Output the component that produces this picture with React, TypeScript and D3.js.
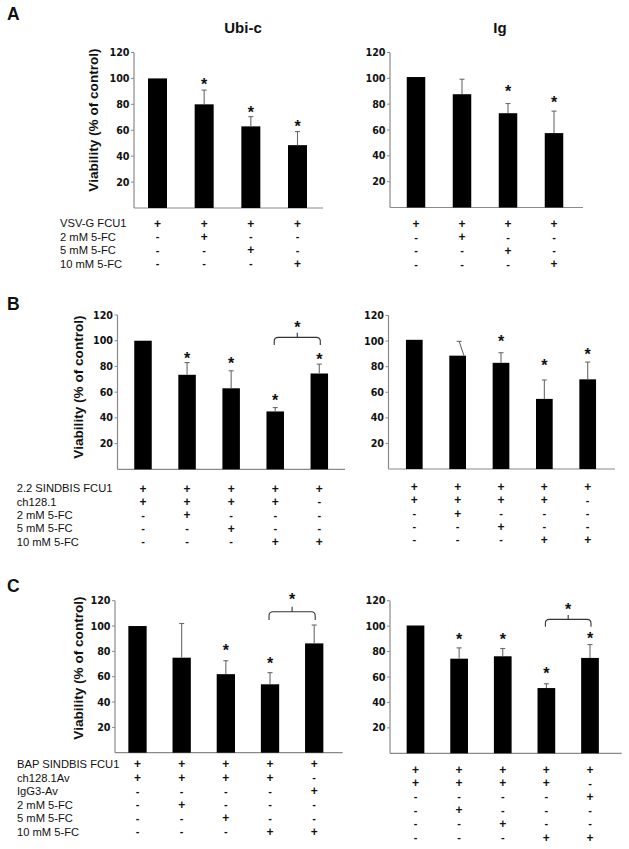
import React from "react";
import * as d3 from "d3";

// ---------- DATA ----------
const yTicks = [20, 40, 60, 80, 100, 120];

// Panel A (Ubi-c / Ig)
const aLeftValues = [100, 80, 63, 48.5];
const aLeftSD = [0.4, 11, 7.5, 10.5];
const aLeftStars = [null, 97.5, 76.4, 65.6];
const aRightValues = [101, 87.7, 73, 57.6];
const aRightSD = [0.4, 11.6, 7.5, 17];
const aRightStars = [null, null, 92, 83.7];

// Panel B
const bLeftValues = [100, 73.5, 63, 45, 74.5];
const bLeftSD = [0.3, 9.5, 13.6, 3, 7.3];
const bLeftStars = [null, 88.9, 84.4, 55.7, 87.6];
const bRightValues = [101, 88.6, 83, 54.8, 70.1];
const bRightSD = [0.4, 11.2, 7.9, 14.8, 13.5];
const bRightStars = [null, null, 102.3, 83.2, 92];

// Panel C
const cLeftValues = [100, 75, 62, 54, 86.3];
const cLeftSD = [0.4, 27, 10.6, 9.2, 14.5];
const cLeftStars = [null, null, 83.2, 73.2, null];
const cRightValues = [100.5, 74.4, 76.3, 51.3, 75];
const cRightSD = [0, 8.5, 6.1, 3.4, 10.5];
const cRightStars = [null, 92.2, 92.2, 65.5, 93];

// significance brackets (bar index from/to, level, drop, star level)
const bLeftBracket = { from: 3, to: 4, level: 102.6, end: 96.7, tick: 106.2, star: 113 };
const cLeftBracket = { from: 3, to: 4, level: 111.3, end: 104.7, tick: 115.2, star: 123.1 };
const cRightBracket = { from: 3, to: 4, level: 105.3, end: 99.5, tick: 108.7, star: 115.8 };

// Treatment tables
const tableALabels = ["VSV-G FCU1", "2 mM 5-FC", "5 mM 5-FC", "10 mM 5-FC"];
const tableARows = [
  ["+", "+", "+", "+"],
  ["-", "+", "-", "-"],
  ["-", "-", "+", "-"],
  ["-", "-", "-", "+"],
];
const tableBLabels = ["2.2 SINDBIS FCU1", "ch128.1", "2 mM 5-FC", "5 mM 5-FC", "10 mM 5-FC"];
const tableBRows = [
  ["+", "+", "+", "+", "+"],
  ["+", "+", "+", "+", "-"],
  ["-", "+", "-", "-", "-"],
  ["-", "-", "+", "-", "-"],
  ["-", "-", "-", "+", "+"],
];
const tableCLabels = ["BAP SINDBIS FCU1", "ch128.1Av", "IgG3-Av", "2 mM 5-FC", "5 mM 5-FC", "10 mM 5-FC"];
const tableCRows = [
  ["+", "+", "+", "+", "+"],
  ["+", "+", "+", "+", "-"],
  ["-", "-", "-", "-", "+"],
  ["-", "+", "-", "-", "-"],
  ["-", "-", "+", "-", "-"],
  ["-", "-", "-", "+", "+"],
];

// ---------- LAYOUT ----------
const ARIAL = "'Liberation Sans', Arial, Helvetica, sans-serif";
const VERDANA = "'DejaVu Sans', Verdana, sans-serif";
const AXIS = "#8a8a8a";
const ERR = "#6a6a6a";

const layouts = {
  aL: { axisX: 134, axisEnd: 323, yTop: 52.5, yBase: 208, c0: 157.5, c1: 297.5, barW: 19 },
  aR: { axisX: 390, axisEnd: 583, yTop: 52.5, yBase: 207.5, c0: 416, c1: 554, barW: 18.5 },
  bL: { axisX: 117.5, axisEnd: 345, yTop: 315, yBase: 469.3, c0: 143, c1: 319.3, barW: 17.5 },
  bR: { axisX: 388.5, axisEnd: 615, yTop: 315.5, yBase: 469, c0: 414.3, c1: 587.7, barW: 16.7 },
  cL: { axisX: 115, axisEnd: 342.7, yTop: 600.7, yBase: 752.7, c0: 137.5, c1: 314.2, barW: 18.3 },
  cR: { axisX: 390, axisEnd: 621.7, yTop: 600.7, yBase: 753.3, c0: 415.5, c1: 590, barW: 17.7 },
};

type Cfg = { axisX: number; axisEnd: number; yTop: number; yBase: number; c0: number; c1: number; barW: number };

function Star({ x, y }: { x: number; y: number }) {
  return (
    <text x={x} y={y + 8.6} textAnchor="middle" fontFamily={ARIAL} fontWeight="bold" fontSize={16} fill="#111">
      *
    </text>
  );
}

function BarPanel({
  cfg,
  values,
  sd,
  stars,
  bracket,
  slant,
}: {
  cfg: Cfg;
  values: number[];
  sd: number[];
  stars: (number | null)[];
  bracket?: { from: number; to: number; level: number; end: number; tick: number; star: number };
  slant?: number;
}) {
  const y = d3.scaleLinear().domain([0, 120]).range([cfg.yBase, cfg.yTop]);
  const x = d3.scalePoint<number>().domain(d3.range(values.length)).range([cfg.c0, cfg.c1]);
  return (
    <g>
      {/* axes */}
      <line x1={cfg.axisX} x2={cfg.axisX} y1={y(120)} y2={cfg.yBase} stroke={AXIS} strokeWidth={1.2} />
      <line x1={cfg.axisX} x2={cfg.axisEnd} y1={cfg.yBase} y2={cfg.yBase} stroke={AXIS} strokeWidth={1.2} />
      {yTicks.map((t) => (
        <g key={t}>
          <line x1={cfg.axisX - 3} x2={cfg.axisX} y1={y(t)} y2={y(t)} stroke={AXIS} strokeWidth={1} />
          <text
            x={cfg.axisX - 4.5}
            y={y(t) + 3.5}
            textAnchor="end"
            fontFamily={VERDANA}
            fontWeight="bold"
            fontSize={9.6}
            fill="#111"
          >
            {t}
          </text>
        </g>
      ))}
      {/* bars */}
      {values.map((v, i) => {
        const cx = x(i)!;
        const top = y(v);
        const et = y(v + sd[i]);
        const isSlant = slant === i;
        return (
          <g key={i}>
            <rect x={cx - cfg.barW / 2} y={top} width={cfg.barW} height={cfg.yBase - top} fill="#000" />
            {sd[i] > 0.5 && (
              <g stroke={ERR} strokeWidth={1.1}>
                <line x1={isSlant ? cx + 1.5 : cx} x2={isSlant ? cx + 6.3 : cx} y1={et} y2={top} />
                <line x1={(isSlant ? cx + 1.5 : cx) - 2.5} x2={(isSlant ? cx + 1.5 : cx) + 2.5} y1={et} y2={et} />
              </g>
            )}
            {stars[i] != null && <Star x={cx} y={y(stars[i] as number)} />}
          </g>
        );
      })}
      {bracket && (
        <g>
          {(() => {
            const x1 = x(bracket.from)! - 1;
            const x2 = x(bracket.to)! + 1;
            const yl = y(bracket.level);
            const ye = y(bracket.end);
            const r = 4;
            const mid = (x1 + x2) / 2;
            const p = d3.path();
            p.moveTo(x1, ye);
            p.lineTo(x1, yl + r);
            p.quadraticCurveTo(x1, yl, x1 + r, yl);
            p.lineTo(x2 - r, yl);
            p.quadraticCurveTo(x2, yl, x2, yl + r);
            p.lineTo(x2, ye);
            return (
              <>
                <path d={p.toString()} fill="none" stroke="#333" strokeWidth={1.1} />
                <line x1={mid} x2={mid} y1={yl} y2={y(bracket.tick)} stroke="#333" strokeWidth={1.1} />
                <Star x={mid} y={y(bracket.star)} />
              </>
            );
          })()}
        </g>
      )}
    </g>
  );
}

function Table({
  labels,
  rows,
  labelX,
  y0,
  step,
  cfg,
  showLabels,
}: {
  labels: string[];
  rows: string[][];
  labelX: number;
  y0: number;
  step: number;
  cfg: Cfg;
  showLabels: boolean;
}) {
  const x = d3.scalePoint<number>().domain(d3.range(rows[0].length)).range([cfg.c0, cfg.c1]);
  const ry = d3.scaleLinear().domain([0, 1]).range([y0, y0 + step]);
  return (
    <g>
      {rows.map((row, r) => (
        <g key={r}>
          {showLabels && (
            <text x={labelX} y={ry(r) + 4} fontFamily={ARIAL} fontSize={11.2} fill="#111">
              {labels[r]}
            </text>
          )}
          {row.map((s, i) => (
            <text
              key={i}
              x={x(i)}
              y={ry(r) + (s === "+" ? 4.3 : 3.6)}
              textAnchor="middle"
              fontFamily={ARIAL}
              fontWeight="bold"
              fontSize={s === "+" ? 12 : 11}
              fill="#111"
            >
              {s}
            </text>
          ))}
        </g>
      ))}
    </g>
  );
}

function YLabel({ x, y }: { x: number; y: number }) {
  return (
    <text
      transform={`translate(${x},${y}) rotate(-90)`}
      textAnchor="middle"
      fontFamily={ARIAL}
      fontWeight="bold"
      fontSize={13.6}
      fill="#111"
    >
      Viability (% of control)
    </text>
  );
}

function PanelLetter({ x, y, t }: { x: number; y: number; t: string }) {
  return (
    <text x={x} y={y} fontFamily={ARIAL} fontWeight="bold" fontSize={17.5} fill="#111">
      {t}
    </text>
  );
}

export default function App() {
  return (
    <svg
      width={629}
      height={849}
      viewBox="0 0 629 849"
      style={{ position: "absolute", left: 0, top: 0, background: "#fff", display: "block" }}
    >
      <rect x={0} y={0} width={629} height={849} fill="#fff" />

      {/* Panel A */}
      <PanelLetter x={7} y={20} t="A" />
      <text x={243} y={33} textAnchor="middle" fontFamily={ARIAL} fontWeight="bold" fontSize={15} fill="#111">
        Ubi-c
      </text>
      <text x={500} y={33} textAnchor="middle" fontFamily={ARIAL} fontWeight="bold" fontSize={15} fill="#111">
        Ig
      </text>
      <YLabel x={98} y={120} />
      <BarPanel cfg={layouts.aL} values={aLeftValues} sd={aLeftSD} stars={aLeftStars} />
      <BarPanel cfg={layouts.aR} values={aRightValues} sd={aRightSD} stars={aRightStars} />
      <Table labels={tableALabels} rows={tableARows} labelX={60} y0={223.3} step={13.4} cfg={layouts.aL} showLabels />
      <Table labels={tableALabels} rows={tableARows} labelX={0} y0={223.3} step={13.6} cfg={layouts.aR} showLabels={false} />

      {/* Panel B */}
      <PanelLetter x={7} y={310} t="B" />
      <YLabel x={83} y={387} />
      <BarPanel cfg={layouts.bL} values={bLeftValues} sd={bLeftSD} stars={bLeftStars} bracket={bLeftBracket} />
      <BarPanel cfg={layouts.bR} values={bRightValues} sd={bRightSD} stars={bRightStars} slant={1} />
      <Table labels={tableBLabels} rows={tableBRows} labelX={16.7} y0={488.3} step={13.3} cfg={layouts.bL} showLabels />
      <Table labels={tableBLabels} rows={tableBRows} labelX={0} y0={486.8} step={13.2} cfg={layouts.bR} showLabels={false} />

      {/* Panel C */}
      <PanelLetter x={7} y={591.7} t="C" />
      <YLabel x={83} y={668} />
      <BarPanel cfg={layouts.cL} values={cLeftValues} sd={cLeftSD} stars={cLeftStars} bracket={cLeftBracket} />
      <BarPanel cfg={layouts.cR} values={cRightValues} sd={cRightSD} stars={cRightStars} bracket={cRightBracket} />
      <Table labels={tableCLabels} rows={tableCRows} labelX={17} y0={764} step={13.5} cfg={layouts.cL} showLabels />
      <Table labels={tableCLabels} rows={tableCRows} labelX={0} y0={769.3} step={13.6} cfg={layouts.cR} showLabels={false} />
    </svg>
  );
}
